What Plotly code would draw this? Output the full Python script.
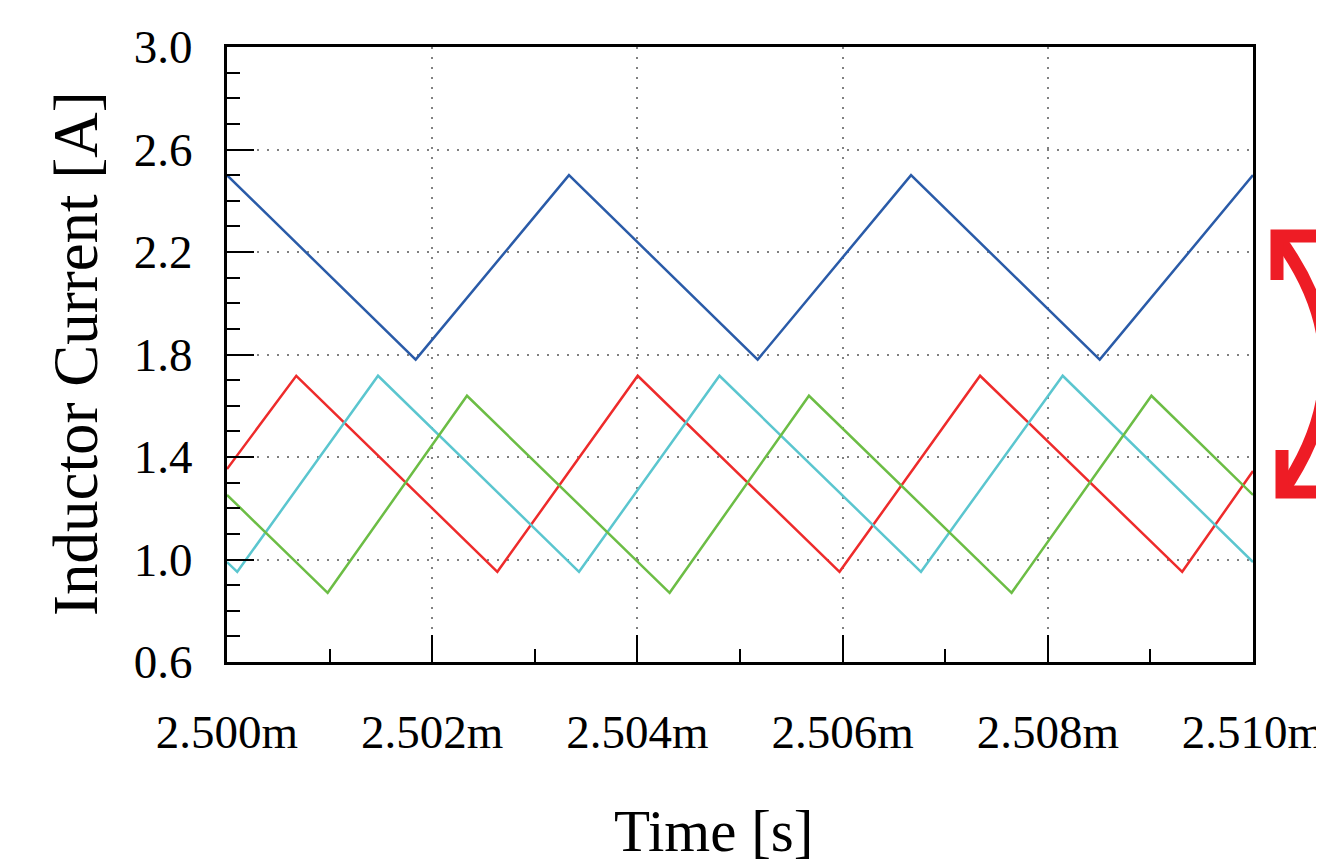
import plotly.graph_objects as go

# ---- data (vertices of the inductor current waveforms; time in microseconds after 2.500 ms) ----
blue_t = [0.0, 1.839, 3.333, 5.172, 6.667, 8.506, 10.0]
blue_i = [2.50, 1.78, 2.50, 1.78, 2.50, 1.78, 2.50]

red_t = [0.0, 0.675, 2.635, 4.003, 5.970, 7.340, 9.310, 10.0]
red_i = [1.353, 1.717, 0.952, 1.717, 0.952, 1.717, 0.952, 1.345]

cyan_t = [0.0, 0.100, 1.472, 3.431, 4.800, 6.764, 8.145, 10.0]
cyan_i = [0.99, 0.952, 1.717, 0.952, 1.717, 0.952, 1.717, 0.99]

green_t = [0.0, 0.981, 2.339, 4.314, 5.672, 7.647, 9.010, 10.0]
green_i = [1.252, 0.870, 1.639, 0.870, 1.639, 0.870, 1.639, 1.252]

t0 = 2.500e-3
x_tickvals = [2.500e-3, 2.502e-3, 2.504e-3, 2.506e-3, 2.508e-3, 2.510e-3]
x_ticktext = ["2.500m", "2.502m", "2.504m", "2.506m", "2.508m", "2.510m"]

x_title = "Time [s]"
y_title = "Inductor Current [A]"

series = [
    (blue_t, blue_i, "#2A5BA8"),
    (red_t, red_i, "#EE2B2B"),
    (cyan_t, cyan_i, "#5BC6CF"),
    (green_t, green_i, "#6CBD45"),
]

fig = go.Figure()
for ts, vals, col in series:
    fig.add_trace(go.Scatter(
        x=[t0 + t * 1e-6 for t in ts], y=vals, mode="lines",
        line=dict(color=col, width=2.5), showlegend=False, hoverinfo="skip"))

FONT = "Liberation Serif"

# the page body adds an 8px margin, so the figure is 8px smaller and shifted
fig.update_layout(
    width=1316, height=856,
    margin=dict(l=219, r=71, t=39, b=202),
    paper_bgcolor="white", plot_bgcolor="white",
    font=dict(family=FONT, color="black"),
    xaxis=dict(
        range=[2.500e-3, 2.510e-3], automargin=False,
        tickmode="array", tickvals=x_tickvals, ticktext=x_ticktext,
        ticks="inside", ticklen=27, tickwidth=2, tickcolor="black",
        minor=dict(ticks="inside", ticklen=13, tickwidth=2, tickcolor="black",
                   tickmode="linear", tick0=2.500e-3, dtick=1e-6, showgrid=False),
        showline=True, linewidth=3, linecolor="black", mirror=True,
        showgrid=True, gridcolor="#808080", gridwidth=1.5, griddash="2px,8px",
        zeroline=False,
        tickfont=dict(family=FONT, size=47),
        ticklabelstandoff=27, ticklabeloverflow="allow",
    ),
    yaxis=dict(
        range=[0.6, 3.0], automargin=False,
        tickmode="linear", tick0=0.6, dtick=0.4, tickformat=".1f",
        ticks="inside", ticklen=27, tickwidth=2, tickcolor="black",
        minor=dict(ticks="inside", ticklen=13, tickwidth=2, tickcolor="black",
                   tickmode="linear", tick0=0.6, dtick=0.1, showgrid=False),
        showline=True, linewidth=3, linecolor="black", mirror=True,
        showgrid=True, gridcolor="#808080", gridwidth=1.5, griddash="2px,8px",
        zeroline=False,
        tickfont=dict(family=FONT, size=47),
        ticklabelstandoff=22, ticklabeloverflow="allow",
    ),
)

# ---- screen-pixel -> paper helper for decorations ----
L, R, T, B = 227, 1253, 47, 662
def px(x, y):
    return (x - L) / (R - L), (B - y) / (B - T)

# axis titles as annotations (x title sits slightly left of the plot centre)
xt = px(713, 831)
fig.add_annotation(text=x_title, x=xt[0], y=xt[1], xref="paper", yref="paper",
                   xanchor="center", yanchor="middle", showarrow=False,
                   height=58, valign="middle",
                   font=dict(family=FONT, size=59))
yt = px(76, 354)
fig.add_annotation(text=y_title, x=yt[0], y=yt[1], xref="paper", yref="paper",
                   xanchor="center", yanchor="middle", showarrow=False, textangle=-90,
                   font=dict(family=FONT, size=63))

# ---- decorative curved double arrow at the right edge ----
a0 = px(1277, 236); aq = px(1372, 362); a1 = px(1282, 492)
arc = f"M {a0[0]},{a0[1]} Q {aq[0]},{aq[1]} {a1[0]},{a1[1]}"
h1 = [px(1277, 280), px(1277, 236), px(1321, 236)]
h2 = [px(1282, 450), px(1282, 492), px(1324, 492)]
def poly(p):
    return "M " + " L ".join(f"{x},{y}" for x, y in p)

for d in (arc, poly(h1), poly(h2)):
    fig.add_shape(type="path", path=d, xref="paper", yref="paper",
                  line=dict(color="#EE1C25", width=13), layer="above")

fig.write_html("out.html")
